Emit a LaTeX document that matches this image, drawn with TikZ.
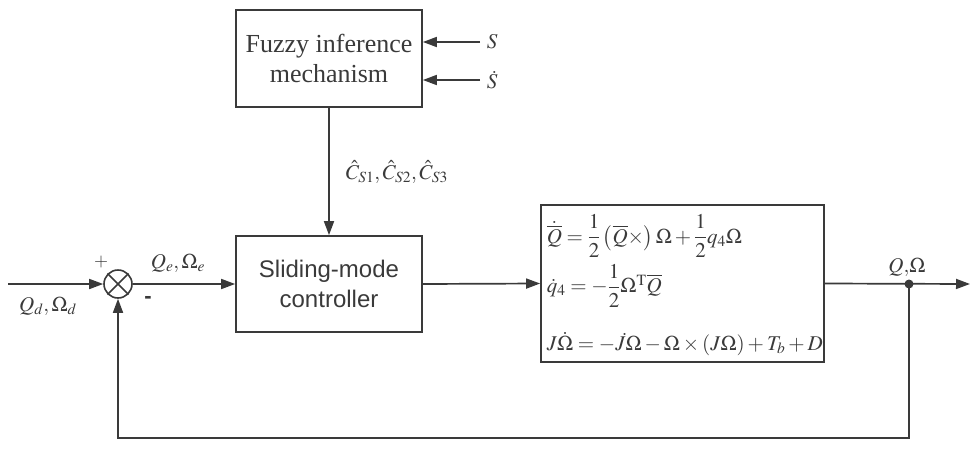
\documentclass[tikz,border=0pt]{standalone}
\usepackage{amsmath}
\usepackage{mathptmx}
\usepackage{fontspec}
\setmainfont{Liberation Serif}
\setsansfont{Liberation Sans}
\usetikzlibrary{arrows.meta}
\definecolor{ln}{HTML}{3A3A3A}
\begin{document}
\begin{tikzpicture}[x=1pt,y=-1pt,line width=1.7pt,draw=ln,text=ln,
  blk/.style={draw=ln,line width=1.7pt,inner sep=0pt,align=center},
  arr/.style={-{Triangle[length=14pt,width=10pt]}},
  lbl/.style={inner sep=0pt,font=\fontsize{21}{24}\selectfont}]
\useasboundingbox (0,0) rectangle (972,450);
\node[blk,minimum width=186,minimum height=97,font=\fontsize{26}{30}\selectfont] (fz) at (329,58.5) {Fuzzy inference\\mechanism};
\node[blk,minimum width=186,minimum height=96,font=\sffamily\fontsize{24}{30}\selectfont] (sm) at (329,284) {Sliding-mode\\controller};
\node[blk,minimum width=283,minimum height=157] (pl) at (682.5,283.5) {};
\node[draw=ln,circle,minimum size=28,inner sep=0pt,line width=1.6pt] (sum) at (118,284) {};
\draw (sum.north west) -- (sum.south east) (sum.north east) -- (sum.south west);
\coordinate (in) at (8,284);
\coordinate (out) at (970,284);
\coordinate (dot) at (909,284);
\coordinate (fb1) at (909,438);
\coordinate (fb2) at (118,438);
\coordinate (s1) at (480,42);
\coordinate (s2) at (480,80);
% equations
\node[lbl,anchor=north west,align=left,font=\fontsize{21}{24}\selectfont] (eq) at (546,214) {%
$\dot{\overline{Q}}=\dfrac{1}{2}\left(\overline{Q}\times\right)\Omega+\dfrac{1}{2}q_4\Omega$\\[6pt]
$\dot{q}_4=-\dfrac{1}{2}\Omega^{\mathrm{T}}\overline{Q}$\\[24pt]
$J\dot{\Omega}=-\dot{J}\Omega-\Omega\times\left(J\Omega\right)+T_b+D$};
% connectors
\draw[arr] (in) -- (sum.west);
\draw[arr] (sum.east) -- (sm.west);
\draw[arr] (sm.east) -- (pl.west);
\draw[arr] (pl.east) -- (out);
\draw[arr] (fz.south) -- (sm.north);
\draw[arr] (s1) -- (s1-|fz.east);
\draw[arr] (s2) -- (s2-|fz.east);
\draw[arr] (dot) -- (fb1) -- (fb2) -- (sum.south);
\fill[ln] (dot) circle (4.5);
% labels
\node[lbl,anchor=west] (ls1) at (486,42) {$S$};
\node[lbl,anchor=west] (ls2) at (486,80) {$\dot{S}$};
\node[lbl,anchor=west] (lc) at (345,172) {$\hat{C}_{S1},\hat{C}_{S2},\hat{C}_{S3}$};
\node[lbl] (lqd) at (48,306) {$Q_d,\Omega_d$};
\node[lbl] (lqe) at (178,263) {$Q_e,\Omega_e$};
\node[lbl] (lq) at (907,267) {$Q{,}\Omega$};
\node[lbl,font=\fontsize{18}{20}\selectfont] (lp) at (101,262) {$+$};
\node[lbl,font=\sffamily\bfseries\fontsize{22}{20}\selectfont] (lm) at (148,300) {-};
\end{tikzpicture}
\end{document}
